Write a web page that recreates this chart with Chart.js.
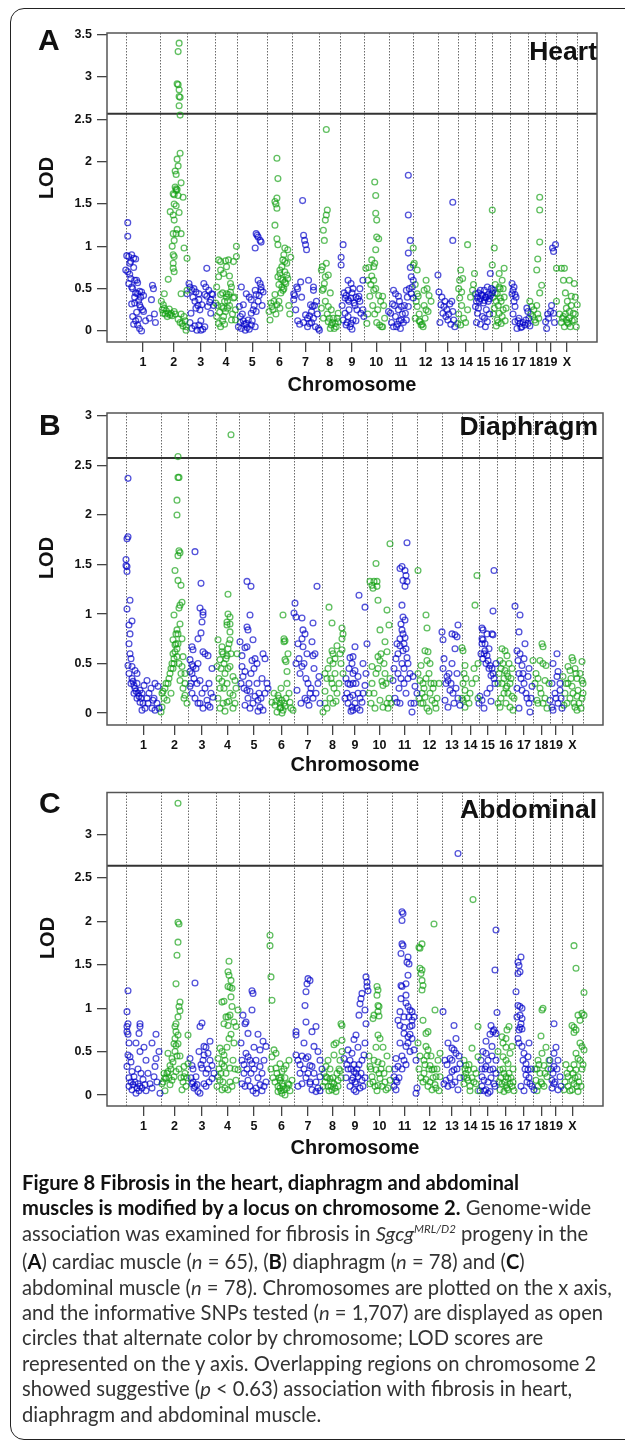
<!DOCTYPE html>
<html><head><meta charset="utf-8">
<script src="https://cdn.jsdelivr.net/npm/chart.js@4.4.0/dist/chart.umd.min.js"></script>
<style>
html,body{margin:0;padding:0;background:#fff;}
body{width:625px;height:1443px;position:relative;overflow:hidden;font-family:"Liberation Sans",Arial,sans-serif;}
.frame{position:absolute;left:10px;top:8px;width:660px;height:1432px;border:1.5px solid #222;border-radius:14px;box-sizing:border-box;}
canvas{position:absolute;left:0;}
.lbl{position:absolute;font-weight:bold;line-height:1;white-space:nowrap;color:#111;}
.letter{font-size:30px;}
.tissue{font-size:26.5px;text-align:right;}
.lod{font-size:20px;transform:translate(-50%,-50%) rotate(-90deg);}
.cap{position:absolute;left:22px;top:1170px;font-family:Lato,"Open Sans",sans-serif;font-size:20.2px;line-height:25.4px;color:#333;white-space:nowrap;}
.cap b{color:#111;}
.cap sup{font-size:11.5px;vertical-align:0;position:relative;top:-8px;}
</style></head>
<body>
<div class="frame"></div>
<canvas id="cA" width="625" height="400" style="top:0"></canvas>
<canvas id="cB" width="625" height="380" style="top:400px"></canvas>
<canvas id="cC" width="625" height="400" style="top:780px"></canvas>

<div class="lbl letter" style="left:38px;top:25px">A</div>
<div class="lbl letter" style="left:39px;top:410px">B</div>
<div class="lbl letter" style="left:39px;top:788px">C</div>
<div class="lbl tissue" style="right:28px;top:38px">Heart</div>
<div class="lbl tissue" style="right:27px;top:413px">Diaphragm</div>
<div class="lbl tissue" style="right:28px;top:796px">Abdominal</div>
<div class="lbl lod" style="left:46px;top:178px">LOD</div>
<div class="lbl lod" style="left:46px;top:558px">LOD</div>
<div class="lbl lod" style="left:47px;top:938px">LOD</div>

<div class="cap">
<b>Figure 8 Fibrosis in the heart, diaphragm and abdominal</b><br>
<b>muscles is modified by a locus on chromosome 2.</b> Genome-wide<br>
association was examined for fibrosis in <i>Sgcg</i><sup><i>MRL/D2</i></sup> progeny in the<br>
(<b>A</b>) cardiac muscle (<i>n</i> = 65), (<b>B</b>) diaphragm (<i>n</i> = 78) and (<b>C</b>)<br>
abdominal muscle (<i>n</i> = 78). Chromosomes are plotted on the x axis,<br>
and the informative SNPs tested (<i>n</i> = 1,707) are displayed as open<br>
circles that alternate color by chromosome; LOD scores are<br>
represented on the y axis. Overlapping regions on chromosome 2<br>
showed suggestive (<i>p</i> &lt; 0.63) association with fibrosis in heart,<br>
diaphragm and abdominal muscle.
</div>

<script>
// ---------- data ----------
const chromosomes = ['1','2','3','4','5','6','7','8','9','10','11','12','13','14','15','16','17','18','19','X'];
const chrSpan = [35,27,28,23,30,25,28,21,24,25,25,25,20,17,18,18,18,17,12,21];
const yTicksA = [0,0.5,1,1.5,2,2.5,3,3.5];
const yTicksB = [0,0.5,1,1.5,2,2.5,3];
const yTicksC = [0,0.5,1,1.5,2,2.5,3];
const thresholdA = 2.565, thresholdB = 2.575, thresholdC = 2.64;

// [position within chromosome, LOD] per chromosome
const heart = [
 [[2,1.28],[2,1.12],[1,0.89],[3,0.88],[8,0.86],[10,0.85],[5,0.82],[0,0.72],[2,0.7],[4,0.67],[9,0.6],[11,0.6],[3,0.56],[6,0.52],[14,0.47],[12,0.44],[16,0.46],[9,0.4],[6,0.32],[9,0.33],[14,0.31],[17,0.25],[7,0.17],[10,0.12],[12,0.07],[16,0.0],[14,0.03],[18,0.23],[27,0.54],[28,0.5],[26,0.37],[29,0.2],[30,0.1],[8,0.75],[12,0.57],[15,0.4],[5,0.62],[7,0.5],[10,0.45],[13,0.36],[15,0.28],[11,0.22],[8,0.08],[13,0.14],[4,0.8],[6,0.9],[18,0.42],[20,0.12],[24,0.15]],
 [[19,3.40],[18,3.30],[17,2.92],[18,2.91],[19,2.85],[19,2.77],[20,2.76],[19,2.66],[20,2.55],[20,2.10],[17,2.03],[15,1.89],[16,1.85],[21,1.75],[16,1.68],[17,1.67],[14,1.61],[16,1.66],[13,1.62],[18,1.6],[23,1.58],[14,1.5],[16,1.48],[10,1.41],[13,1.37],[14,1.31],[13,1.15],[16,1.15],[21,1.15],[14,1.07],[24,0.98],[27,0.86],[13,0.9],[14,0.88],[13,0.74],[14,0.7],[8,0.61],[4,0.44],[1,0.35],[3,0.31],[4,0.27],[3,0.21],[8,0.21],[11,0.21],[14,0.23],[7,0.17],[21,0.2],[24,0.17],[22,0.09],[26,0.05],[26,0.01],[21,0.44],[27,0.48],[5,0.2],[10,0.19],[2,0.25],[6,0.24],[9,0.26],[12,0.18],[15,0.2],[18,0.14],[20,0.1],[23,0.06],[25,0.12],[13,0.8],[12,1.0],[17,1.2],[19,1.4],[15,1.7],[18,1.95]],
 [[2,0.56],[3,0.52],[5,0.48],[0,0.44],[9,0.46],[12,0.44],[12,0.37],[9,0.27],[4,0.21],[5,0.03],[10,0.01],[12,0.07],[14,0.01],[16,0.02],[20,0.74],[17,0.56],[19,0.52],[22,0.48],[25,0.44],[20,0.41],[24,0.37],[21,0.29],[24,0.21],[15,0.31],[7,0.5],[26,0.43],[27,0.3],[6,0.4],[8,0.35],[11,0.3],[13,0.25],[18,0.43],[23,0.34],[14,0.12],[8,0.06],[18,0.05],[3,0.1]],
 [[4,0.84],[6,0.82],[11,0.83],[14,0.84],[19,0.82],[6,0.72],[9,0.68],[12,0.76],[4,0.64],[2,0.52],[6,0.43],[1,0.33],[7,0.29],[9,0.27],[2,0.17],[4,0.09],[6,0.05],[9,0.17],[11,0.23],[13,0.27],[12,0.44],[14,0.43],[16,0.46],[17,0.52],[16,0.56],[19,0.39],[21,0.25],[17,0.13],[21,0.13],[22,1.0],[22,0.88],[10,0.35],[12,0.4],[3,0.3],[5,0.22],[8,0.12],[10,0.08],[13,0.35],[15,0.3],[18,0.2],[20,0.4],[8,0.45],[15,0.65]],
 [[2,0.29],[3,0.17],[1,0.05],[4,0.03],[8,0.01],[6,0.12],[9,0.09],[14,0.07],[18,0.05],[4,0.52],[9,0.44],[14,0.37],[18,0.48],[19,0.43],[24,0.48],[14,0.21],[16,0.25],[19,0.23],[6,0.31],[19,1.15],[21,1.11],[23,1.07],[18,0.98],[24,1.05],[21,0.6],[23,0.56],[24,0.52],[26,0.46],[11,0.13],[20,1.13],[3,0.1],[5,0.2],[7,0.08],[10,0.04],[12,0.02],[15,0.12],[17,0.3],[21,0.35],[25,0.3],[22,0.42],[12,0.4]],
 [[10,2.04],[11,1.8],[10,1.57],[8,1.53],[9,1.5],[10,1.45],[8,1.25],[10,1.09],[11,1.02],[16,0.84],[18,0.82],[20,0.8],[15,0.76],[13,0.68],[11,0.64],[16,0.6],[15,0.52],[18,0.7],[20,0.66],[18,0.58],[16,0.48],[4,0.33],[5,0.29],[2,0.23],[3,0.13],[10,0.31],[13,0.27],[18,0.98],[21,0.96],[8,0.43],[12,0.55],[14,0.62],[17,0.9],[24,0.87],[23,0.2],[6,0.25],[9,0.2],[12,0.35],[14,0.45],[17,0.5],[19,0.56],[21,0.62],[13,0.72],[7,0.35],[22,0.3]],
 [[2,0.44],[3,0.42],[2,0.37],[5,0.52],[11,1.54],[12,1.13],[13,1.07],[14,1.02],[15,0.96],[17,0.6],[22,0.52],[22,0.48],[19,0.31],[21,0.29],[14,0.19],[16,0.15],[18,0.09],[24,0.05],[27,0.03],[20,0.23],[25,0.35],[23,0.3],[28,0.01],[9,0.58],[18,0.18],[4,0.25],[6,0.12],[8,0.08],[12,0.1],[16,0.05],[20,0.1],[22,0.15],[26,0.2],[10,0.4],[6,0.5]],
 [[7,2.38],[8,1.43],[7,1.37],[6,1.31],[4,1.19],[5,1.07],[3,0.76],[2,0.72],[6,0.64],[9,0.66],[5,0.56],[3,0.48],[7,0.8],[2,0.27],[9,0.29],[12,0.25],[9,0.11],[12,0.07],[11,0.03],[16,0.09],[19,0.11],[19,0.21],[14,0.15],[17,0.05],[4,0.5],[6,0.35],[8,0.2],[10,0.15],[13,0.1],[15,0.03],[18,0.15],[4,0.15],[11,0.45]],
 [[3,1.02],[1,0.87],[1,0.78],[8,0.6],[11,0.56],[13,0.5],[5,0.39],[8,0.37],[11,0.39],[16,0.4],[18,0.38],[19,0.41],[5,0.21],[8,0.17],[13,0.13],[6,0.07],[10,0.05],[11,0.09],[3,0.13],[23,0.6],[21,0.21],[23,0.25],[24,0.17],[8,0.48],[2,0.3],[15,0.3],[20,0.5],[4,0.45],[6,0.42],[9,0.35],[12,0.45],[14,0.33],[17,0.25],[20,0.35],[7,0.1],[12,0.02],[16,0.12],[9,0.25]],
 [[11,1.76],[12,1.6],[12,1.39],[13,1.31],[13,1.11],[15,1.09],[12,0.96],[8,0.84],[11,0.8],[10,0.76],[2,0.74],[5,0.75],[10,0.6],[10,0.48],[6,0.41],[19,0.41],[3,0.09],[16,0.07],[18,0.05],[21,0.15],[8,0.65],[14,0.25],[20,0.3],[4,0.6],[7,0.55],[12,0.5],[15,0.42],[17,0.35],[11,0.2],[13,0.1],[19,0.05],[9,0.3],[4,0.2]],
 [[20,1.84],[20,1.37],[22,1.07],[20,0.92],[23,0.64],[25,0.6],[18,0.48],[23,0.44],[25,0.39],[5,0.48],[7,0.44],[10,0.41],[11,0.35],[13,0.29],[0,0.23],[2,0.21],[7,0.17],[8,0.05],[13,0.13],[17,0.21],[18,0.13],[12,0.03],[20,0.29],[15,0.1],[4,0.32],[22,0.75],[3,0.1],[5,0.05],[9,0.08],[11,0.12],[14,0.2],[16,0.3],[19,0.4],[21,0.5],[24,0.52],[10,0.25],[6,0.3]],
 [[0,0.98],[1,0.8],[0,0.78],[4,0.72],[13,0.6],[11,0.48],[4,0.44],[5,0.41],[4,0.29],[7,0.11],[8,0.07],[10,0.05],[15,0.23],[16,0.42],[6,0.2],[12,0.15],[2,0.55],[3,0.35],[6,0.12],[9,0.08],[11,0.3],[13,0.25],[14,0.5],[18,0.35],[2,0.15]],
 [[15,1.52],[15,1.07],[0,0.66],[1,0.46],[3,0.31],[6,0.29],[5,0.21],[8,0.17],[10,0.13],[15,0.23],[16,0.13],[12,0.32],[2,0.1],[4,0.4],[7,0.35],[9,0.25],[11,0.2],[13,0.08],[14,0.35],[17,0.05]],
 [[10,1.02],[3,0.72],[2,0.6],[5,0.62],[4,0.46],[2,0.39],[0,0.09],[3,0.07],[17,0.68],[15,0.48],[1,0.2],[1,0.5],[4,0.3],[6,0.15],[8,0.1],[10,0.25],[13,0.4],[16,0.55]],
 [[16,0.68],[13,0.52],[10,0.48],[1,0.44],[3,0.4],[6,0.38],[7,0.43],[11,0.4],[14,0.43],[18,0.45],[19,0.48],[1,0.29],[4,0.27],[3,0.21],[8,0.17],[13,0.11],[11,0.05],[9,0.33],[14,0.35],[17,0.5],[5,0.35],[12,0.25],[2,0.35],[4,0.45],[6,0.48],[8,0.42],[10,0.36],[12,0.4],[15,0.38],[16,0.42],[2,0.1],[6,0.08],[10,0.15],[15,0.2]],
 [[0,1.43],[2,0.98],[0,0.78],[7,0.68],[10,0.6],[7,0.52],[5,0.44],[8,0.39],[4,0.35],[2,0.27],[7,0.21],[5,0.13],[9,0.09],[12,0.74],[14,0.27],[10,0.17],[4,0.06],[12,0.4],[3,0.55],[1,0.4],[3,0.45],[6,0.3],[9,0.35],[11,0.25],[13,0.12],[6,0.1],[8,0.5],[11,0.5],[1,0.2]],
 [[2,0.56],[4,0.52],[2,0.44],[5,0.43],[4,0.35],[5,0.29],[5,0.11],[10,0.09],[15,0.07],[18,0.09],[7,0.03],[12,0.05],[17,0.27],[18,0.23],[9,0.15],[3,0.48],[6,0.4],[3,0.2],[8,0.12],[13,0.1],[16,0.13],[20,0.06],[11,0.04],[19,0.15]],
 [[12,1.58],[12,1.43],[12,1.05],[10,0.85],[9,0.72],[14,0.54],[2,0.35],[4,0.29],[6,0.25],[5,0.17],[7,0.13],[10,0.2],[3,0.2],[8,0.1],[9,0.3],[11,0.15],[12,0.45]],
 [[8,0.98],[11,1.02],[9,0.94],[6,0.23],[9,0.21],[1,0.11],[2,0.03],[4,0.15],[7,0.3],[10,0.1],[3,0.2]],
 [[0,0.74],[5,0.74],[8,0.74],[7,0.6],[13,0.6],[18,0.56],[15,0.41],[0,0.35],[21,0.31],[10,0.27],[13,0.23],[17,0.21],[7,0.17],[10,0.13],[13,0.15],[18,0.13],[20,0.05],[12,0.09],[8,0.05],[15,0.3],[5,0.1],[3,0.2],[6,0.15],[9,0.2],[11,0.1],[14,0.05],[16,0.12],[19,0.2],[11,0.35],[9,0.45],[19,0.4]]
];

const diaphragm = [
 [[2,2.37],[2,1.78],[1,1.76],[0,1.55],[0,1.49],[1,1.48],[1,1.43],[4,1.14],[1,1.05],[6,0.93],[3,0.89],[4,0.8],[3,0.7],[4,0.6],[2,0.48],[6,0.47],[9,0.43],[11,0.4],[6,0.35],[7,0.32],[11,0.3],[9,0.25],[14,0.23],[16,0.2],[11,0.15],[14,0.11],[16,0.03],[21,0.33],[21,0.15],[27,0.13],[29,0.03],[26,0.05],[29,0.3],[22,0.1],[32,0.27],[18,0.28],[13,0.17],[8,0.2],[5,0.3],[8,0.28],[10,0.22],[12,0.2],[15,0.15],[17,0.1],[19,0.05],[23,0.2],[25,0.25],[28,0.15],[31,0.1],[33,0.05],[3,0.4],[5,0.55]],
 [[17,2.59],[17,2.38],[18,2.38],[16,2.15],[16,2.0],[18,1.64],[19,1.62],[17,1.59],[14,1.44],[17,1.34],[20,1.29],[21,1.12],[19,1.09],[18,1.06],[13,0.99],[16,0.84],[15,0.8],[21,0.75],[12,0.74],[14,0.69],[16,0.65],[12,0.6],[16,0.57],[11,0.5],[12,0.45],[9,0.4],[7,0.3],[5,0.3],[2,0.22],[1,0.2],[1,0.06],[0,0.01],[6,0.13],[22,0.57],[21,0.47],[24,0.4],[19,0.33],[24,0.3],[24,0.18],[26,0.1],[15,0.7],[13,0.55],[3,0.15],[4,0.25],[8,0.35],[10,0.45],[13,0.5],[14,0.62],[17,0.7],[18,0.5],[20,0.4],[22,0.25],[23,0.15],[10,0.2],[17,0.8],[19,0.9]],
 [[7,1.63],[13,1.31],[12,1.06],[15,1.02],[15,0.99],[14,0.92],[13,0.81],[10,0.75],[4,0.67],[5,0.64],[2,0.54],[4,0.49],[5,0.47],[2,0.42],[4,0.4],[2,0.27],[4,0.2],[12,0.33],[15,0.62],[17,0.6],[20,0.58],[12,0.1],[20,0.08],[22,0.06],[19,0.13],[25,0.16],[9,0.3],[24,0.45],[3,0.3],[6,0.35],[8,0.45],[10,0.5],[7,0.15],[10,0.1],[14,0.2],[17,0.25],[21,0.3],[15,0.05],[23,0.2]],
 [[15,2.81],[12,1.2],[12,1.0],[14,0.97],[11,0.92],[14,0.9],[11,0.89],[14,0.82],[14,0.74],[2,0.74],[6,0.67],[6,0.62],[7,0.6],[11,0.58],[4,0.54],[9,0.4],[6,0.32],[11,0.3],[14,0.47],[17,0.37],[19,0.33],[14,0.2],[17,0.18],[11,0.11],[17,0.05],[7,0.1],[2,0.15],[21,0.6],[1,0.47],[4,0.25],[9,0.02],[12,0.45],[3,0.35],[5,0.45],[8,0.5],[10,0.55],[12,0.65],[13,0.7],[15,0.6],[8,0.25],[13,0.12],[19,0.1],[20,0.25],[4,0.05]],
 [[8,1.33],[12,1.28],[11,0.99],[8,0.87],[9,0.84],[14,0.74],[1,0.72],[6,0.66],[8,0.67],[3,0.47],[6,0.42],[4,0.37],[13,0.53],[16,0.55],[18,0.5],[8,0.23],[11,0.22],[9,0.15],[16,0.17],[19,0.13],[21,0.06],[14,0.1],[24,0.6],[26,0.55],[23,0.35],[28,0.3],[29,0.25],[6,0.08],[24,0.03],[3,0.58],[2,0.3],[5,0.25],[10,0.3],[12,0.4],[15,0.45],[18,0.3],[20,0.2],[22,0.15],[26,0.2],[11,0.05],[19,0.02]],
 [[14,0.99],[15,0.75],[16,0.73],[15,0.72],[16,0.54],[17,0.52],[18,0.42],[9,0.18],[13,0.13],[6,0.08],[11,0.05],[14,0.03],[8,0.01],[13,0.0],[21,0.11],[24,0.03],[3,0.11],[11,0.1],[16,0.07],[20,0.2],[5,0.2],[7,0.12],[10,0.15],[12,0.06],[15,0.1],[17,0.15],[18,0.3],[12,0.25],[22,0.05],[19,0.6]],
 [[1,1.11],[0,1.01],[2,0.97],[8,0.96],[9,0.84],[11,0.8],[8,0.75],[19,0.91],[23,1.28],[4,0.7],[9,0.67],[13,0.6],[19,0.58],[8,0.47],[3,0.23],[13,0.13],[16,0.2],[11,0.15],[25,0.37],[24,0.3],[21,0.6],[18,0.72],[6,0.4],[20,0.45],[15,0.08],[2,0.5],[5,0.55],[10,0.5],[12,0.35],[14,0.3],[17,0.25],[19,0.15],[22,0.2],[26,0.1],[7,0.1]],
 [[7,1.07],[10,0.91],[20,0.86],[21,0.8],[20,0.75],[10,0.63],[11,0.6],[15,0.68],[8,0.53],[11,0.5],[13,0.4],[10,0.3],[5,0.35],[3,0.22],[1,0.01],[11,0.1],[8,0.15],[18,0.6],[20,0.64],[21,0.4],[15,0.2],[5,0.05],[3,0.4],[6,0.45],[9,0.35],[12,0.25],[14,0.12],[17,0.3],[19,0.5],[13,0.55],[3,0.1]],
 [[16,1.19],[22,1.07],[12,0.67],[7,0.56],[10,0.57],[12,0.43],[10,0.4],[5,0.3],[7,0.29],[10,0.3],[4,0.2],[7,0.16],[10,0.18],[5,0.1],[9,0.06],[10,0.03],[14,0.05],[17,0.03],[19,0.11],[22,0.28],[24,0.7],[15,0.37],[2,0.15],[20,0.5],[3,0.35],[6,0.45],[9,0.5],[13,0.3],[15,0.2],[17,0.15],[8,0.02],[12,0.1],[20,0.2],[23,0.4]],
 [[23,1.71],[9,1.51],[3,1.33],[5,1.29],[7,1.33],[10,1.33],[10,1.28],[6,1.26],[11,1.14],[20,1.04],[13,0.84],[22,0.89],[18,0.72],[11,0.57],[13,0.53],[5,0.47],[15,0.32],[16,0.28],[13,0.13],[16,0.06],[20,0.1],[21,0.05],[5,0.3],[20,0.62],[22,0.15],[18,0.4],[2,0.2],[4,0.1],[7,0.2],[9,0.4],[11,0.45],[14,0.6],[17,0.5],[19,0.3],[23,0.35],[8,0.05],[24,0.1]],
 [[15,1.72],[10,1.48],[8,1.46],[13,1.44],[14,1.39],[11,1.34],[15,1.33],[13,1.28],[10,1.09],[11,0.97],[13,0.94],[10,0.84],[11,0.8],[8,0.75],[13,0.76],[5,0.7],[8,0.68],[11,0.63],[6,0.6],[15,0.56],[16,0.5],[1,0.33],[3,0.15],[5,0.11],[8,0.1],[18,0.4],[21,0.37],[23,0.27],[20,0.01],[25,0.2],[10,0.5],[12,0.45],[7,0.25],[14,0.2],[2,0.45],[4,0.55],[6,0.4],[9,0.35],[12,0.3],[16,0.35],[19,0.1],[22,0.1],[9,0.9],[12,0.7],[14,0.65]],
 [[1,1.44],[9,0.99],[10,0.86],[8,0.63],[11,0.62],[10,0.53],[13,0.5],[1,0.4],[3,0.33],[6,0.3],[5,0.2],[8,0.16],[6,0.1],[10,0.05],[15,0.13],[20,0.15],[17,0.3],[4,0.48],[19,0.05],[13,0.2],[2,0.15],[4,0.1],[7,0.25],[9,0.35],[12,0.4],[14,0.3],[16,0.25],[18,0.1],[22,0.3],[12,0.02]],
 [[0,0.82],[1,0.74],[10,0.8],[13,0.79],[16,0.89],[15,0.77],[5,0.37],[6,0.33],[8,0.23],[3,0.13],[6,0.06],[13,0.65],[10,0.5],[15,0.4],[12,0.1],[2,0.55],[1,0.45],[4,0.3],[7,0.4],[9,0.3],[11,0.2],[14,0.25],[16,0.15],[18,0.08]],
 [[15,1.39],[13,1.09],[0,0.66],[1,0.63],[3,0.48],[1,0.3],[3,0.23],[0,0.15],[1,0.13],[3,0.06],[16,0.5],[12,0.45],[8,0.2],[2,0.4],[4,0.35],[5,0.15],[7,0.1],[10,0.3],[14,0.35],[16,0.15]],
 [[15,1.44],[14,1.03],[3,0.86],[4,0.84],[8,0.8],[13,0.8],[14,0.79],[3,0.75],[4,0.74],[6,0.7],[3,0.7],[6,0.63],[8,0.58],[9,0.53],[11,0.48],[13,0.45],[14,0.4],[1,0.17],[3,0.13],[0,0.1],[5,0.6],[10,0.65],[16,0.3],[11,0.25],[2,0.6],[4,0.55],[7,0.5],[10,0.45],[12,0.38],[15,0.35],[8,0.2],[12,0.12],[5,0.05],[17,0.5]],
 [[5,0.65],[8,0.63],[10,0.58],[3,0.53],[6,0.5],[8,0.43],[10,0.4],[11,0.37],[5,0.3],[10,0.27],[1,0.1],[3,0.06],[11,0.2],[15,0.17],[13,0.06],[16,0.03],[12,0.5],[2,0.4],[7,0.2],[14,0.35],[4,0.45],[7,0.35],[9,0.25],[13,0.3],[15,0.45],[4,0.15],[9,0.1],[17,0.15],[1,0.3]],
 [[0,1.08],[5,0.99],[4,0.82],[2,0.63],[5,0.6],[3,0.53],[7,0.48],[8,0.4],[13,0.37],[2,0.25],[7,0.23],[15,0.01],[17,0.27],[12,0.15],[10,0.7],[14,0.45],[4,0.4],[6,0.35],[9,0.3],[11,0.2],[14,0.1],[16,0.15],[4,0.05],[9,0.55]],
 [[9,0.7],[10,0.67],[7,0.53],[10,0.5],[13,0.48],[12,0.33],[4,0.13],[5,0.1],[2,0.3],[0,0.53],[8,0.2],[14,0.05],[3,0.4],[5,0.35],[7,0.25],[10,0.1],[12,0.15],[16,0.3]],
 [[7,0.6],[8,0.42],[7,0.37],[10,0.23],[5,0.2],[0,0.13],[2,0.06],[3,0.03],[12,0.05],[10,0.3],[3,0.5],[6,0.15],[8,0.1],[11,0.15],[2,0.3]],
 [[10,0.56],[11,0.53],[20,0.52],[6,0.47],[8,0.43],[1,0.37],[15,0.35],[20,0.33],[21,0.3],[6,0.3],[10,0.27],[16,0.23],[11,0.2],[15,0.17],[20,0.15],[13,0.06],[15,0.03],[5,0.1],[2,0.08],[21,0.2],[18,0.4],[3,0.2],[8,0.15],[12,0.1],[14,0.4],[17,0.1],[19,0.05],[9,0.35],[13,0.45],[4,0.3]]
];

const abdominal = [
 [[2,1.2],[1,0.96],[2,0.82],[1,0.79],[1,0.73],[2,0.7],[14,0.82],[14,0.79],[13,0.71],[2,0.46],[4,0.44],[14,0.5],[1,0.33],[6,0.27],[8,0.21],[9,0.15],[12,0.13],[14,0.1],[6,0.06],[10,0.02],[16,0.08],[22,0.25],[28,0.21],[24,0.13],[30,0.42],[29,0.33],[34,0.02],[20,0.4],[18,0.55],[10,0.6],[5,0.38],[26,0.6],[30,0.7],[33,0.5],[3,0.2],[5,0.15],[7,0.12],[3,0.1],[11,0.08],[13,0.05],[12,0.3],[15,0.25],[17,0.18],[19,0.12],[20,0.05],[26,0.08],[31,0.15],[3,0.6]],
 [[17,3.36],[17,1.99],[18,1.97],[17,1.76],[16,1.61],[15,1.28],[19,1.07],[18,1.02],[19,0.97],[17,0.9],[15,0.82],[14,0.79],[15,0.73],[17,0.69],[27,0.69],[13,0.59],[15,0.57],[17,0.59],[7,0.48],[11,0.42],[9,0.34],[7,0.27],[3,0.25],[5,0.19],[1,0.13],[11,0.17],[13,0.21],[15,0.27],[23,0.33],[27,0.36],[23,0.21],[21,0.06],[25,0.1],[4,0.05],[9,0.12],[19,0.45],[2,0.15],[4,0.2],[6,0.25],[8,0.2],[10,0.3],[12,0.38],[14,0.5],[16,0.45],[18,0.3],[20,0.2],[22,0.15],[24,0.25],[26,0.2],[14,0.65]],
 [[7,1.29],[14,0.83],[12,0.79],[2,0.42],[4,0.34],[5,0.3],[4,0.13],[6,0.08],[10,0.04],[12,0.02],[8,0.21],[16,0.56],[18,0.55],[20,0.48],[16,0.46],[22,0.4],[18,0.25],[14,0.31],[16,0.13],[24,0.34],[24,0.19],[22,0.62],[26,0.25],[3,0.2],[5,0.15],[7,0.1],[9,0.12],[13,0.35],[15,0.4],[20,0.3],[21,0.15],[18,0.1],[11,0.5]],
 [[13,1.54],[12,1.42],[13,1.38],[15,1.32],[12,1.25],[14,1.24],[16,1.23],[15,1.13],[6,1.07],[8,1.08],[16,1.02],[14,0.92],[10,0.9],[12,0.9],[8,0.82],[12,0.8],[18,0.84],[20,0.79],[22,0.98],[4,0.54],[6,0.5],[8,0.46],[2,0.42],[6,0.36],[8,0.33],[14,0.31],[2,0.21],[4,0.17],[6,0.06],[12,0.06],[16,0.1],[20,0.17],[22,0.29],[10,0.25],[18,0.6],[1,0.1],[3,0.3],[5,0.25],[7,0.15],[9,0.4],[11,0.55],[13,0.65],[15,0.7],[17,0.4],[19,0.3],[9,0.08],[14,0.15]],
 [[4,0.92],[6,0.82],[7,0.84],[13,0.98],[14,1.17],[13,1.2],[9,0.71],[7,0.48],[9,0.44],[11,0.4],[13,0.36],[5,0.25],[3,0.13],[9,0.17],[11,0.1],[17,0.08],[17,0.02],[21,0.33],[23,0.25],[25,0.4],[27,0.56],[21,0.52],[27,0.15],[15,0.55],[19,0.7],[24,0.62],[2,0.6],[3,0.4],[5,0.35],[6,0.1],[8,0.3],[12,0.25],[15,0.3],[17,0.4],[19,0.2],[21,0.12],[23,0.05],[25,0.1],[14,0.05]],
 [[1,1.84],[1,1.72],[2,1.36],[3,1.09],[7,0.31],[11,0.36],[13,0.27],[17,0.34],[11,0.17],[13,0.13],[11,0.08],[15,0.06],[13,0.02],[9,0.1],[19,0.13],[23,0.17],[5,0.52],[7,0.48],[3,0.44],[9,0.04],[16,0.0],[21,0.05],[12,0.2],[20,0.4],[2,0.3],[4,0.2],[6,0.15],[8,0.25],[10,0.2],[12,0.05],[14,0.1],[16,0.2],[18,0.08],[20,0.12],[15,0.3]],
 [[14,1.34],[16,1.32],[13,1.28],[12,1.19],[11,1.03],[12,0.84],[22,0.79],[18,0.73],[2,0.73],[2,0.69],[2,0.46],[12,0.42],[14,0.44],[16,0.34],[18,0.33],[14,0.25],[16,0.15],[16,0.13],[18,0.06],[22,0.04],[26,0.4],[28,0.3],[26,0.21],[24,0.5],[20,0.56],[6,0.25],[8,0.13],[10,0.6],[4,0.4],[6,0.35],[8,0.45],[10,0.3],[12,0.2],[20,0.25],[22,0.15],[24,0.08],[26,0.05],[4,0.1]],
 [[19,0.82],[20,0.8],[20,0.63],[12,0.58],[6,0.4],[4,0.33],[2,0.25],[4,0.21],[8,0.19],[10,0.15],[12,0.13],[16,0.17],[6,0.1],[10,0.06],[14,0.04],[16,0.1],[20,0.5],[18,0.4],[12,0.46],[18,0.28],[8,0.3],[1,0.1],[3,0.15],[5,0.2],[7,0.05],[9,0.1],[11,0.2],[13,0.08],[15,0.25],[17,0.3],[19,0.2],[14,0.6]],
 [[23,1.36],[24,1.3],[24,1.25],[25,1.2],[19,1.17],[18,1.11],[17,1.05],[22,0.98],[16,0.92],[23,0.82],[13,0.69],[11,0.64],[5,0.52],[9,0.48],[7,0.4],[11,0.35],[11,0.27],[13,0.25],[15,0.21],[9,0.17],[13,0.13],[7,0.1],[11,0.06],[13,0.04],[17,0.08],[19,0.17],[19,0.4],[21,0.46],[5,0.3],[1,0.42],[22,0.6],[3,0.2],[4,0.35],[8,0.3],[10,0.2],[12,0.15],[14,0.3],[16,0.35],[18,0.25],[20,0.1],[22,0.2],[15,0.55]],
 [[10,1.25],[11,1.21],[10,1.15],[11,1.03],[12,1.02],[11,0.96],[7,0.92],[6,0.88],[12,0.91],[11,0.69],[13,0.65],[7,0.4],[11,0.38],[3,0.33],[9,0.29],[15,0.36],[17,0.25],[13,0.19],[11,0.11],[15,0.1],[19,0.06],[21,0.08],[23,0.17],[5,0.21],[3,0.13],[20,0.45],[16,0.55],[2,0.45],[4,0.3],[6,0.15],[8,0.1],[10,0.05],[12,0.25],[14,0.3],[18,0.15],[22,0.3],[9,0.55]],
 [[10,2.11],[11,2.09],[10,2.01],[10,1.74],[11,1.72],[9,1.63],[16,1.59],[15,1.53],[17,1.51],[16,1.38],[9,1.26],[10,1.25],[14,1.28],[9,1.11],[14,1.06],[16,1.02],[18,0.98],[20,0.96],[8,0.96],[6,0.86],[8,0.8],[12,0.78],[18,0.79],[20,0.8],[12,0.71],[16,0.67],[22,0.9],[20,0.86],[14,0.56],[8,0.6],[4,0.42],[6,0.33],[2,0.21],[4,0.17],[2,0.1],[4,0.06],[24,0.4],[22,0.52],[24,0.02],[25,0.08],[10,0.45],[18,0.5],[3,0.3],[5,0.15],[7,0.2],[10,0.3],[12,0.4],[14,0.35],[16,0.6],[18,0.7],[20,0.65],[12,0.9],[14,1.15],[17,0.9]],
 [[2,1.7],[3,1.69],[5,1.74],[3,1.46],[5,1.44],[4,1.4],[5,1.32],[6,1.26],[5,1.21],[17,1.97],[18,0.98],[6,0.86],[9,0.71],[11,0.73],[9,0.56],[11,0.52],[3,0.45],[7,0.4],[13,0.34],[15,0.29],[7,0.25],[9,0.18],[19,0.21],[11,0.1],[15,0.06],[19,0.08],[23,0.21],[21,0.4],[23,0.48],[17,0.3],[13,0.15],[1,0.6],[2,0.3],[4,0.2],[6,0.15],[8,0.35],[10,0.45],[12,0.3],[14,0.45],[16,0.2],[18,0.12],[20,0.3],[22,0.05]],
 [[16,2.78],[1,0.96],[12,0.8],[10,0.54],[12,0.52],[14,0.48],[8,0.42],[12,0.29],[10,0.27],[4,0.17],[6,0.1],[16,0.06],[2,0.13],[18,0.36],[18,0.2],[14,0.65],[6,0.6],[3,0.4],[5,0.35],[8,0.2],[10,0.12],[13,0.15],[15,0.3],[17,0.45],[10,0.4]],
 [[11,2.25],[16,0.79],[2,0.4],[4,0.34],[6,0.29],[4,0.25],[2,0.21],[6,0.17],[2,0.13],[8,0.1],[14,0.13],[16,0.44],[10,0.54],[12,0.3],[8,0.05],[3,0.3],[5,0.2],[7,0.35],[10,0.2],[12,0.15],[14,0.25],[16,0.05]],
 [[17,1.9],[16,1.44],[18,0.95],[12,0.8],[15,0.75],[14,0.73],[17,0.71],[11,0.7],[7,0.62],[7,0.48],[9,0.4],[7,0.33],[11,0.29],[3,0.21],[5,0.17],[3,0.1],[7,0.06],[9,0.02],[11,0.04],[15,0.13],[17,0.25],[13,0.56],[17,0.4],[1,0.05],[3,0.3],[2,0.4],[4,0.5],[6,0.3],[9,0.15],[12,0.2],[14,0.3],[16,0.1],[5,0.05],[13,0.45]],
 [[5,0.67],[9,0.65],[12,0.79],[6,0.44],[9,0.4],[11,0.36],[3,0.29],[7,0.25],[9,0.21],[11,0.19],[5,0.13],[9,0.11],[13,0.13],[15,0.1],[3,0.06],[7,0.04],[11,0.06],[17,0.05],[13,0.48],[15,0.56],[9,0.55],[16,0.3],[1,0.5],[2,0.15],[4,0.2],[6,0.3],[8,0.15],[10,0.08],[12,0.25],[14,0.2],[16,0.15],[6,0.6],[10,0.75]],
 [[6,1.59],[3,1.53],[4,1.49],[5,1.42],[3,1.4],[1,1.19],[3,1.03],[5,1.02],[7,1.0],[5,0.92],[7,0.88],[6,0.82],[5,0.78],[7,0.76],[4,0.75],[9,0.48],[13,0.44],[11,0.36],[13,0.29],[7,0.56],[15,0.13],[17,0.1],[19,0.06],[11,0.23],[3,0.65],[14,0.6],[2,0.9],[4,0.6],[8,0.4],[10,0.3],[12,0.15],[14,0.2],[16,0.3],[6,0.1],[9,0.05]],
 [[10,1.0],[9,0.98],[8,0.68],[9,0.48],[5,0.4],[11,0.34],[7,0.25],[3,0.17],[9,0.13],[5,0.1],[14,0.21],[16,0.4],[13,0.55],[2,0.3],[4,0.3],[6,0.35],[8,0.15],[11,0.1],[12,0.25],[15,0.3],[4,0.05]],
 [[4,0.82],[4,0.48],[0,0.4],[4,0.33],[2,0.17],[4,0.13],[2,0.08],[8,0.06],[10,0.21],[6,0.55],[7,0.3],[1,0.3],[3,0.25],[5,0.15],[8,0.4],[11,0.1]],
 [[12,1.72],[14,1.46],[22,1.18],[10,0.8],[12,0.78],[16,0.92],[20,0.94],[22,0.92],[18,0.86],[14,0.75],[12,0.72],[14,0.48],[16,0.42],[18,0.4],[12,0.35],[14,0.29],[16,0.21],[10,0.17],[12,0.13],[6,0.1],[10,0.06],[16,0.04],[20,0.56],[22,0.52],[2,0.06],[6,0.21],[20,0.3],[4,0.35],[3,0.15],[5,0.25],[8,0.3],[11,0.25],[13,0.2],[15,0.1],[17,0.15],[19,0.1],[21,0.35],[18,0.6],[8,0.05]]
];

// ---------- chart building ----------
const chrStart = [];
chrSpan.reduce((acc, s, i) => { chrStart[i] = acc; return acc + s; }, 0);
const boundaries = chrStart.concat([chrStart[chrStart.length-1] + chrSpan[chrSpan.length-1]]);
const chrCenter = chrStart.map((s, i) => s + chrSpan[i] / 2);

const BLUE = 'rgba(0,0,200,0.68)';
const GREEN = 'rgba(20,160,20,0.68)';

const decor = {
  id: 'decor',
  beforeDatasetsDraw(chart, args, opts) {
    const {ctx, chartArea: a, scales: {x, y}} = chart;
    ctx.save();
    ctx.strokeStyle = '#6a6a6a';
    ctx.lineWidth = 1;
    ctx.setLineDash([1.5, 1.5]);
    boundaries.forEach(b => {
      const px = Math.round(x.getPixelForValue(b)) + 0.5;
      ctx.beginPath(); ctx.moveTo(px, a.top); ctx.lineTo(px, a.bottom); ctx.stroke();
    });
    ctx.setLineDash([]);
    const ty = y.getPixelForValue(opts.threshold);
    ctx.strokeStyle = '#333';
    ctx.lineWidth = 2;
    ctx.beginPath(); ctx.moveTo(a.left, ty); ctx.lineTo(a.right, ty); ctx.stroke();
    ctx.restore();
  },
  afterDatasetsDraw(chart) {
    const {ctx, chartArea: a} = chart;
    ctx.save();
    ctx.strokeStyle = '#555';
    ctx.lineWidth = 1.5;
    ctx.strokeRect(a.left, a.top, a.right - a.left, a.bottom - a.top);
    ctx.restore();
  }
};

function makeChart(id, panel, cfg) {
  const datasets = panel.map((pts, i) => ({
    data: pts.map(([p, l]) => ({x: chrStart[i] + p, y: l})),
    borderColor: i % 2 === 0 ? BLUE : GREEN,
    backgroundColor: 'rgba(0,0,0,0)',
    pointRadius: 2.9,
    pointBorderWidth: 1.3,
    pointStyle: 'circle',
    showLine: false
  }));
  const tickFont = {family: 'Liberation Sans', weight: 'bold', size: 12.5};
  return new Chart(document.getElementById(id), {
    type: 'scatter',
    data: {datasets},
    options: {
      responsive: false, animation: false, events: [],
      layout: {padding: cfg.padding},
      plugins: {legend: {display: false}, tooltip: {enabled: false}, decor: {threshold: cfg.threshold}},
      scales: {
        x: {
          type: 'linear', min: -19, max: 477,
          afterBuildTicks: s => { s.ticks = chrCenter.map(v => ({value: v})); },
          afterFit: s => { s.height = cfg.xHeight; },
          grid: {display: true, drawOnChartArea: false, drawTicks: true, tickLength: 10, color: '#444', lineWidth: 1.3},
          border: {display: false},
          ticks: {autoSkip: false, maxRotation: 0, minRotation: 0, padding: 3, font: tickFont, color: '#111',
                  callback: (v, i) => chromosomes[i]},
          title: {display: true, text: 'Chromosome', color: '#111', padding: 0,
                  font: {family: 'Liberation Sans', weight: 'bold', size: 20}}
        },
        y: {
          type: 'linear', min: cfg.yMin, max: cfg.yMax,
          afterBuildTicks: s => { s.ticks = cfg.yTicks.map(v => ({value: v})); },
          afterFit: s => { s.width = cfg.yWidth; },
          grid: {display: true, drawOnChartArea: false, drawTicks: true, tickLength: 10, color: '#444', lineWidth: 1.3},
          border: {display: false},
          ticks: {padding: 5, font: tickFont, color: '#111', callback: v => String(v)}
        }
      }
    },
    plugins: [decor]
  });
}

makeChart('cA', heart, {padding: {left: 34, right: 28, top: 33, bottom: 3}, yWidth: 73, xHeight: 55,
  yMin: -0.13, yMax: 3.52, yTicks: yTicksA, threshold: thresholdA});
makeChart('cB', diaphragm, {padding: {left: 34, right: 22, top: 13, bottom: 3}, yWidth: 73, xHeight: 52,
  yMin: -0.12, yMax: 3.03, yTicks: yTicksB, threshold: thresholdB});
makeChart('cC', abdominal, {padding: {left: 34, right: 22, top: 12, bottom: 20}, yWidth: 73, xHeight: 54,
  yMin: -0.126, yMax: 3.483, yTicks: yTicksC, threshold: thresholdC});
</script>
</body></html>
